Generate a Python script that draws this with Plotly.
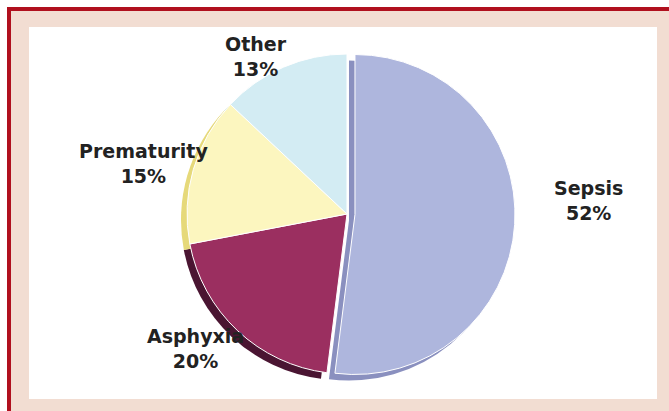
import plotly.graph_objects as go

# ---- data ----
causes = ["Sepsis", "Asphyxia", "Prematurity", "Other"]
shares = [52, 20, 15, 13]

# ---- style ----
face_colors = ["#aeb6dd", "#9b2f60", "#fcf6bf", "#d3ecf3"]
side_colors = ["#8a90bf", "#4a1532", "#e6d97a", "#a9d2df"]
pulls = [0.05, 0, 0, 0]
label_xy = {"Sepsis": (588, 201), "Asphyxia": (195, 348),
            "Prematurity": (143, 163), "Other": (256, 57)}

W, H = 669, 411
cx, cy, S = 347, 214, 168


def dom(x0, y0):
    return dict(x=[(x0 - S) / W, (x0 + S) / W],
                y=[(H - y0 - S) / H, (H - y0 + S) / H])


fig = go.Figure()
# depth (3D side) layer
fig.add_trace(go.Pie(labels=causes, values=shares, sort=False, direction="clockwise",
                     rotation=0, pull=pulls, textinfo="none", hoverinfo="skip",
                     marker=dict(colors=side_colors, line=dict(width=0)),
                     domain=dom(cx - 6, cy + 6), showlegend=False))
# top face
fig.add_trace(go.Pie(labels=causes, values=shares, sort=False, direction="clockwise",
                     rotation=0, pull=pulls, textinfo="none",
                     marker=dict(colors=face_colors, line=dict(color="#ffffff", width=1)),
                     domain=dom(cx, cy), showlegend=False))

annotations = []
for lab, val in zip(causes, shares):
    x, y = label_xy[lab]
    annotations.append(dict(x=x / W, y=1 - y / H, xref="paper", yref="paper",
                            text=f"{lab}<br>{val}%", showarrow=False,
                            xanchor="center", yanchor="middle", align="center",
                            font=dict(family="DejaVu Sans", size=19, color="#222222",
                                      weight="bold")))

shapes = [
    dict(type="rect", xref="paper", yref="paper", x0=11 / W, x1=1, y0=0, y1=1 - 11 / H,
         fillcolor="#f2ddd2", line=dict(width=0), layer="below"),
    dict(type="rect", xref="paper", yref="paper", x0=7 / W, x1=1, y0=1 - 11 / H, y1=1 - 7 / H,
         fillcolor="#b0101e", line=dict(width=0), layer="below"),
    dict(type="rect", xref="paper", yref="paper", x0=7 / W, x1=11 / W, y0=0, y1=1 - 7 / H,
         fillcolor="#b0101e", line=dict(width=0), layer="below"),
    dict(type="rect", xref="paper", yref="paper", x0=29 / W, x1=657 / W, y0=1 - 399 / H, y1=1 - 27 / H,
         fillcolor="#ffffff", line=dict(width=0), layer="below"),
]

fig.update_layout(width=W, height=H, margin=dict(l=0, r=0, t=0, b=0),
                  paper_bgcolor="#ffffff", plot_bgcolor="#ffffff",
                  annotations=annotations, shapes=shapes)

fig.write_html("out.html")
